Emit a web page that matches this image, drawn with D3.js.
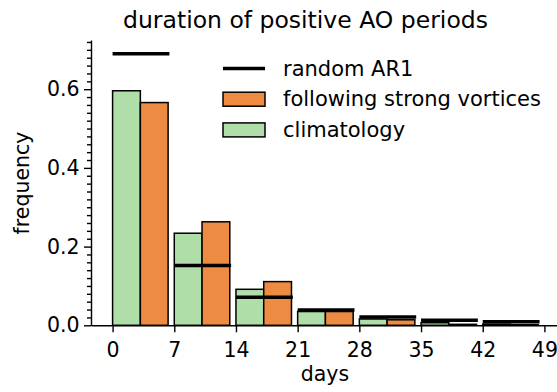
<!DOCTYPE html>
<html>
<head>
<meta charset="utf-8">
<script src="https://cdn.jsdelivr.net/npm/d3@7"></script>
<style>
  body { margin: 0; background: #fff; }
  svg text { font-family: "DejaVu Sans", sans-serif; fill: #000; }
</style>
</head>
<body>
<div id="chart"></div>
<script>
// bins de 7 dias
const binStarts = [0, 7, 14, 21, 28, 35, 42];
const climatology = [0.596, 0.234, 0.0915, 0.035, 0.016, 0.0066, 0.003];
const strongVortex = [0.566, 0.263, 0.111, 0.035, 0.014, 0.0025, 0.0015];
const randomAR1 = [0.690, 0.152, 0.071, 0.039, 0.021, 0.0127, 0.0089];
const xTicks = [0, 7, 14, 21, 28, 35, 42, 49];
const yTicks = [0, 0.2, 0.4, 0.6];

const width = 557, height = 392;
const green = '#afdea8', orange = '#ee8b43';
const barW = 3.15;
const fs = 20.5;

const svg = d3.select('#chart')
    .append('svg')
    .attr('width', width)
    .attr('height', height);

let x = d3.scaleLinear().domain([-2.45, 51.45]).range([91, 566]);
let y = d3.scaleLinear().domain([0, 0.725]).range([325.3, 40]);

//Barras
svg.selectAll('.clim')
    .data(binStarts)
    .enter()
    .append('rect')
    .attr('class', 'clim')
    .attr('x', d => x(d))
    .attr('y', (d, i) => y(climatology[i]))
    .attr('width', x(barW) - x(0))
    .attr('height', (d, i) => y(0) - y(climatology[i]))
    .attr('fill', green)
    .attr('stroke', '#000')
    .attr('stroke-width', 1.5);

svg.selectAll('.vort')
    .data(binStarts)
    .enter()
    .append('rect')
    .attr('class', 'vort')
    .attr('x', d => x(d + barW))
    .attr('y', (d, i) => y(strongVortex[i]))
    .attr('width', x(barW) - x(0))
    .attr('height', (d, i) => y(0) - y(strongVortex[i]))
    .attr('fill', orange)
    .attr('stroke', '#000')
    .attr('stroke-width', 1.5);

//Lineas AR1
svg.selectAll('.ar1')
    .data(binStarts)
    .enter()
    .append('line')
    .attr('class', 'ar1')
    .attr('x1', d => x(d))
    .attr('x2', d => x(d + 6.45))
    .attr('y1', (d, i) => y(randomAR1[i]))
    .attr('y2', (d, i) => y(randomAR1[i]))
    .attr('stroke', '#000')
    .attr('stroke-width', 3.5);

//Ejes
let xAxis = svg.append('g')
    .attr('transform', 'translate(0,' + y(0) + ')')
    .call(d3.axisBottom(x).tickValues(xTicks).tickSize(7).tickPadding(10.3).tickSizeOuter(0));

let yMinor = d3.range(0, 0.721, 0.02).filter(v => Math.abs(v * 5 - Math.round(v * 5)) > 1e-6);
svg.append('g')
    .attr('transform', 'translate(' + x(-2.45) + ',0)')
    .call(d3.axisLeft(y).tickValues(yMinor).tickSize(4).tickFormat('').tickSizeOuter(0))
    .call(g => g.select('.domain').remove());

let yAxis = svg.append('g')
    .attr('transform', 'translate(' + x(-2.45) + ',0)')
    .call(d3.axisLeft(y).tickValues(yTicks).tickFormat(d3.format('.1f')).tickSize(7).tickPadding(4.5).tickSizeOuter(0));

svg.selectAll('.domain, .tick line').attr('stroke', '#000').attr('stroke-width', 1.4);
svg.selectAll('.tick text').attr('font-size', fs).attr('font-family', '"DejaVu Sans", sans-serif');

//Textos
svg.append('text')
    .attr('x', 305.5).attr('y', 28)
    .attr('text-anchor', 'middle')
    .attr('font-size', 23.5)
    .text('duration of positive AO periods');

svg.append('text')
    .attr('x', 325).attr('y', 381)
    .attr('text-anchor', 'middle')
    .attr('font-size', fs)
    .text('days');

svg.append('text')
    .attr('transform', 'translate(29,183) rotate(-90)')
    .attr('text-anchor', 'middle')
    .attr('font-size', fs)
    .text('frequency');

//Leyenda
const legendItems = [
    {label: 'random AR1', type: 'line'},
    {label: 'following strong vortices', type: 'rect', color: orange},
    {label: 'climatology', type: 'rect', color: green}
];

let legend = svg.append('g').attr('transform', 'translate(223,68.5)');
legendItems.forEach(function(item, i) {
    let g = legend.append('g').attr('transform', 'translate(0,' + (i * 30.7) + ')');
    if(item.type == 'line') {
        g.append('line')
            .attr('x1', 0).attr('x2', 42)
            .attr('stroke', '#000')
            .attr('stroke-width', 3.5);
    } else {
        g.append('rect')
            .attr('x', 0).attr('y', -7)
            .attr('width', 42).attr('height', 14)
            .attr('fill', item.color)
            .attr('stroke', '#000')
            .attr('stroke-width', 1.5);
    }
    g.append('text')
        .attr('x', 60).attr('y', 7)
        .attr('font-size', 21)
        .text(item.label);
});
</script>
</body>
</html>
